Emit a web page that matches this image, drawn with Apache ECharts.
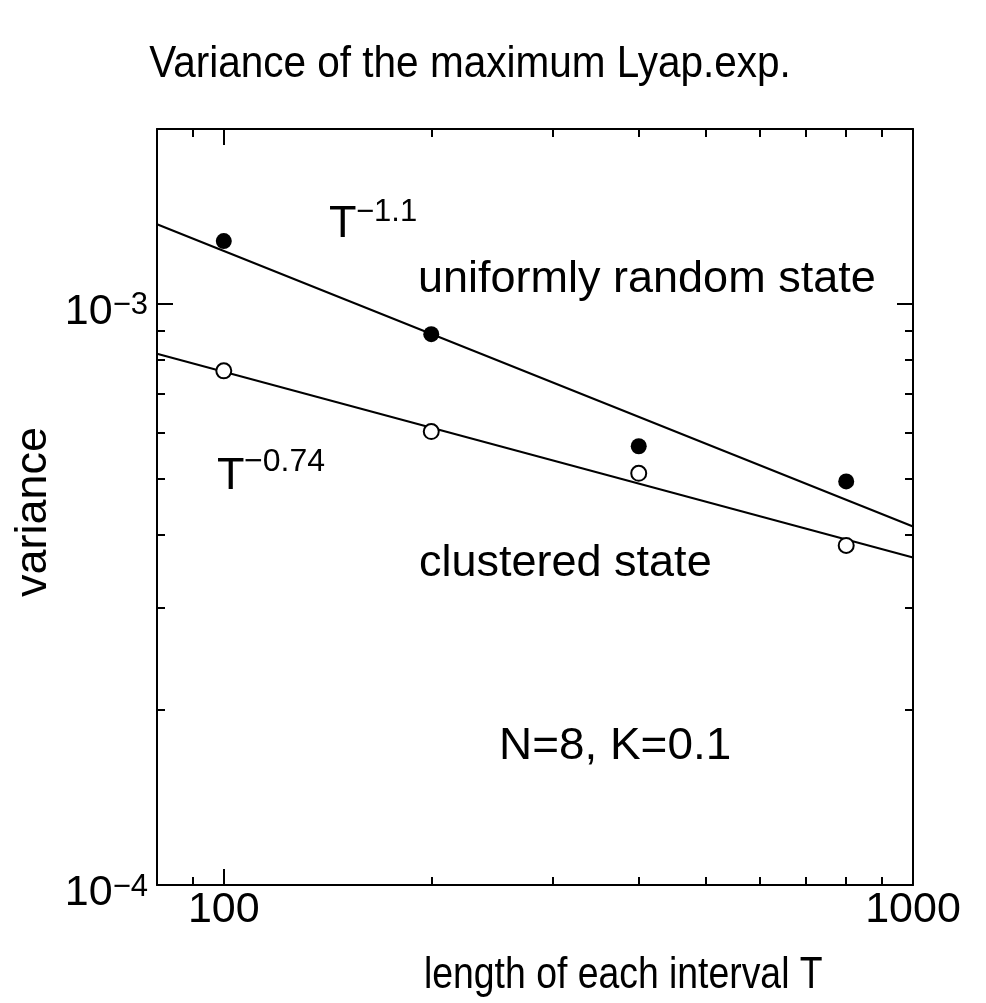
<!DOCTYPE html>
<html><head><meta charset="utf-8">
<script src="https://cdn.jsdelivr.net/npm/echarts@6/dist/echarts.min.js"></script>
<style>html,body{margin:0;padding:0;background:#fff}#c{width:986px;height:1003px}</style>
</head><body><div id="c"></div>
<script>
// ---- data ----
const intervalT = [100, 200, 400, 800];
const varianceUniform = [1.283e-3, 8.87e-4, 5.69e-4, 4.95e-4];
const varianceClustered = [7.67e-4, 6.03e-4, 5.11e-4, 3.84e-4];
const fitT = [80, 1000];
const fitUniform = [1.371e-3, 4.14e-4];
const fitClustered = [8.21e-4, 3.66e-4];
const xRange = [80, 1000];
const yRange = [1e-4, 2e-3];
const xMajorTicks = [100, 1000];
const xMinorTicks = [90, 200, 300, 400, 500, 600, 700, 800, 900];
const yMajorTicks = [1e-4, 1e-3];
const yMinorTicks = [2e-4, 3e-4, 4e-4, 5e-4, 6e-4, 7e-4, 8e-4, 9e-4];

const L = Math.log10;
const FONT = '"Liberation Sans", Arial, Helvetica, sans-serif';
const BLACK = '#000';

function mkAxis(dim, position, ticks, len, showLine, labels) {
  const range = dim === 'x' ? xRange : yRange;
  const ax = {
    type: 'value', position: position,
    min: L(range[0]), max: L(range[1]),
    gridIndex: 0,
    splitLine: { show: false },
    axisLine: { show: showLine, onZero: false, lineStyle: { color: BLACK, width: 2 } },
    axisTick: { show: true, inside: true, length: len, customValues: ticks.map(L),
                lineStyle: { color: BLACK, width: 2 } },
    axisLabel: { show: false },
    axisPointer: { show: false }
  };
  if (labels) {
    if (dim === 'x') {
      ax.axisLabel = {
        show: true, customValues: labels.map(L), margin: 4,
        fontFamily: FONT, fontSize: 43, color: BLACK,
        formatter: v => String(Math.round(Math.pow(10, v)))
      };
    } else {
      ax.axisLabel = {
        show: true, customValues: labels.map(L), margin: 9,
        padding: [16, 0, 0, 0],
        formatter: v => '{b|10}{s|\u2212' + Math.abs(Math.round(v)) + '}',
        rich: {
          b: { fontFamily: FONT, fontSize: 43, color: BLACK, lineHeight: 43 },
          s: { fontFamily: FONT, fontSize: 31, color: BLACK, lineHeight: 15, verticalAlign: 'top' }
        }
      };
    }
  }
  return ax;
}

const xAxes = [
  mkAxis('x', 'bottom', xMajorTicks, 16, true, xMajorTicks),
  mkAxis('x', 'bottom', xMinorTicks, 8, false, null),
  mkAxis('x', 'top', xMajorTicks, 16, true, null),
  mkAxis('x', 'top', xMinorTicks, 8, false, null)
];
const yAxes = [
  mkAxis('y', 'left', yMajorTicks, 16, true, yMajorTicks),
  mkAxis('y', 'left', yMinorTicks, 8, false, null),
  mkAxis('y', 'right', yMajorTicks, 16, true, null),
  mkAxis('y', 'right', yMinorTicks, 8, false, null)
];

function txt(text, x, baseline, size, opts) {
  opts = opts || {};
  return {
    type: 'text', x: x, y: baseline - 0.3465 * size, rotation: opts.rotation || 0,
    scaleX: opts.scaleX || 1,
    style: { text: text, fontFamily: FONT, fontSize: size, fill: BLACK,
             align: opts.align || 'left', verticalAlign: 'middle' },
    silent: true, z: 100
  };
}

const chart = echarts.init(document.getElementById('c'), null, { renderer: 'canvas' });
chart.setOption({
  animation: false,
  backgroundColor: '#fff',
  grid: { left: 157, top: 129, width: 756, height: 756, containLabel: false },
  xAxis: xAxes,
  yAxis: yAxes,
  series: [
    { type: 'line', data: fitT.map((t, i) => [L(t), L(fitUniform[i])]), symbol: 'none',
      lineStyle: { color: BLACK, width: 2 }, silent: true, z: 2 },
    { type: 'line', data: fitT.map((t, i) => [L(t), L(fitClustered[i])]), symbol: 'none',
      lineStyle: { color: BLACK, width: 2 }, silent: true, z: 2 },
    { type: 'scatter', data: intervalT.map((t, i) => [L(t), L(varianceUniform[i])]),
      symbol: 'circle', symbolSize: 16, itemStyle: { color: BLACK, opacity: 1 }, z: 3 },
    { type: 'scatter', data: intervalT.map((t, i) => [L(t), L(varianceClustered[i])]),
      symbol: 'circle', symbolSize: 15, itemStyle: { color: '#fff', borderColor: BLACK, borderWidth: 2, opacity: 1 }, z: 3 }
  ],
  graphic: [
    txt('Variance of the maximum Lyap.exp.', 470, 80, 45, { align: 'center', scaleX: 0.9 }),
    txt('length of each interval T', 424, 991, 45, { scaleX: 0.83 }),
    {
      type: 'text', x: 34, y: 512, rotation: Math.PI / 2,
      style: { text: 'variance', fontFamily: FONT, fontSize: 45, fill: BLACK, align: 'center', verticalAlign: 'middle' },
      silent: true, z: 100
    },
    txt('T', 329, 240, 45),
    txt('\u22121.1', 356, 223, 31),
    txt('T', 217, 492, 45),
    txt('\u22120.74', 244, 473, 32),
    txt('uniformly random state', 418, 295, 45),
    txt('clustered state', 419, 579, 45),
    txt('N=8, K=0.1', 499, 762, 45, { scaleX: 1.02 })
  ]
});
</script>
</body></html>
